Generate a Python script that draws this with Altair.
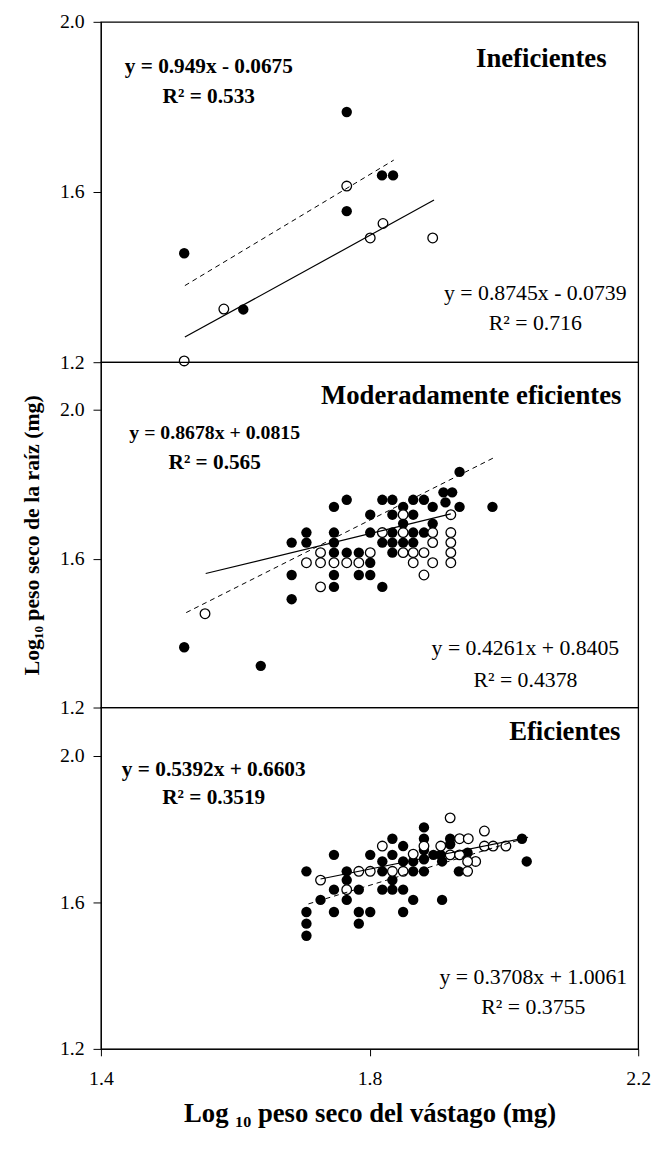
import altair as alt
import pandas as pd

FONT = "Liberation Serif"
X_TICKS = [1.4, 1.8, 2.2]
Y_TICKS = [1.2, 1.6, 2.0]

# ---------------- Panel 1: Ineficientes ----------------
p1_filled_x = [1.766, 1.8185, 1.835, 1.766, 1.524, 1.612]
p1_filled_y = [1.788, 1.639, 1.639, 1.555, 1.456, 1.324]
p1_open_x = [1.766, 1.820, 1.801, 1.894, 1.583, 1.524]
p1_open_y = [1.614, 1.526, 1.492, 1.492, 1.325, 1.203]
p1_dash_x = [1.525, 1.836]
p1_dash_y = [1.380, 1.675]
p1_solid_x = [1.525, 1.896]
p1_solid_y = [1.259, 1.581]

# ---------------- Panel 2: Moderadamente eficientes ----------------
p2_filled_x = [1.934,
               1.910, 1.923,
               1.766, 1.819, 1.834, 1.865, 1.881,
               1.747, 1.850, 1.894, 1.913, 1.934, 1.983,
               1.801, 1.834, 1.865,
               1.850, 1.894,
               1.706, 1.747, 1.801, 1.834, 1.865, 1.881,
               1.684, 1.706, 1.747, 1.819, 1.834, 1.850, 1.865,
               1.747, 1.766, 1.784, 1.834,
               1.801,
               1.684, 1.747, 1.784, 1.801,
               1.747, 1.819,
               1.684,
               1.524,
               1.638]
p2_filled_y = [1.833,
               1.778, 1.778,
               1.758, 1.758, 1.758, 1.758, 1.758,
               1.739, 1.739, 1.739, 1.751, 1.739, 1.739,
               1.718, 1.718, 1.718,
               1.694, 1.694,
               1.670, 1.670, 1.670, 1.670, 1.670, 1.670,
               1.643, 1.643, 1.643, 1.643, 1.643, 1.643, 1.643,
               1.616, 1.616, 1.616, 1.616,
               1.589,
               1.556, 1.556, 1.556, 1.556,
               1.524, 1.524,
               1.491,
               1.362,
               1.312]
p2_open_x = [1.921, 1.850,
             1.819, 1.850, 1.894, 1.921,
             1.894, 1.921,
             1.727, 1.801, 1.850, 1.865, 1.881, 1.921,
             1.706, 1.727, 1.747, 1.766, 1.784, 1.865, 1.894, 1.921,
             1.881,
             1.727,
             1.555]
p2_open_y = [1.718, 1.718,
             1.670, 1.670, 1.670, 1.670,
             1.643, 1.643,
             1.616, 1.616, 1.616, 1.616, 1.616, 1.616,
             1.589, 1.589, 1.589, 1.589, 1.589, 1.589, 1.589, 1.589,
             1.556,
             1.524,
             1.452]
p2_dash_x = [1.527, 1.985]
p2_dash_y = [1.455, 1.871]
p2_solid_x = [1.556, 1.921]
p2_solid_y = [1.560, 1.720]

# ---------------- Panel 3: Eficientes ----------------
p3_filled_x = [1.881,
               1.834, 1.881, 1.920,
               1.850, 1.920,
               1.747, 1.801, 1.834, 1.881, 1.895, 1.906, 1.946,
               1.819, 1.850, 1.865, 1.881, 1.908,
               1.706, 1.766, 1.819, 1.865, 1.881, 1.933,
               1.766, 1.834,
               1.747, 1.784, 1.819, 1.834, 1.850,
               1.727, 1.766, 1.865, 1.908,
               1.706, 1.747, 1.784, 1.801, 1.850,
               1.706, 1.784,
               1.706,
               2.027, 2.034]
p3_filled_y = [1.805,
               1.774, 1.774, 1.774,
               1.754, 1.759,
               1.730, 1.730, 1.730, 1.743, 1.730, 1.730, 1.736,
               1.712, 1.712, 1.712, 1.718, 1.712,
               1.685, 1.685, 1.685, 1.685, 1.685, 1.685,
               1.661, 1.661,
               1.635, 1.635, 1.635, 1.635, 1.635,
               1.607, 1.607, 1.607, 1.607,
               1.574, 1.574, 1.574, 1.574, 1.574,
               1.542, 1.542,
               1.509,
               1.774, 1.712]
p3_open_x = [1.920,
             1.971,
             1.819, 1.906, 1.934, 1.947, 1.971, 1.984, 2.003,
             1.865, 1.881, 1.920, 1.934,
             1.784, 1.801, 1.834, 1.850, 1.946, 1.958, 1.946,
             1.727,
             1.766]
p3_open_y = [1.831,
             1.795,
             1.754, 1.754, 1.774, 1.774, 1.754, 1.754, 1.754,
             1.732, 1.754, 1.730, 1.730,
             1.685, 1.685, 1.685, 1.685, 1.685, 1.712, 1.712,
             1.661,
             1.635]
p3_dash_x = [1.709, 2.036]
p3_dash_y = [1.596, 1.778]
p3_solid_x = [1.727, 2.036]
p3_solid_y = [1.664, 1.778]

# Annotation texts
titles = ["Ineficientes", "Moderadamente eficientes", "Eficientes"]
bold_eqs = ["y = 0.949x - 0.0675", "y = 0.8678x + 0.0815", "y = 0.5392x + 0.6603"]
bold_r2 = ["R² = 0.533", "R² = 0.565", "R² = 0.3519"]
reg_eqs = ["y = 0.8745x - 0.0739", "y = 0.4261x + 0.8405", "y = 0.3708x + 1.0061"]
reg_r2 = ["R² = 0.716", "R² = 0.4378", "R² = 0.3755"]

X_TITLE = "Log ₁₀ peso seco del vástago (mg)"
Y_TITLE = "Log₁₀ peso seco de la raíz (mg)"


def text_layer(label, px, py, size, bold, align="center"):
    return alt.Chart(pd.DataFrame({"t": [label]})).mark_text(
        font=FONT, fontSize=size, fontWeight="bold" if bold else "normal",
        align=align, baseline="middle", color="black"
    ).encode(text="t:N", x=alt.value(px), y=alt.value(py))


def panel(fx, fy, ox, oy, dx, dy, sx, sy, ydom, height, idx, text_pos,
          bold_size, show_x=False, ytitle=None):
    xaxis = None
    if show_x:
        xaxis = alt.Axis(values=X_TICKS, format=".1f", title=X_TITLE,
                         labelFont=FONT, labelFontSize=20, labelColor="black",
                         titleFont=FONT, titleFontSize=27, titleFontWeight="bold",
                         titleColor="black", tickSize=7, tickColor="black",
                         domainColor="black", labelPadding=13, titlePadding=12,
                         grid=False, labelFlush=False)
    yaxis = alt.Axis(values=Y_TICKS, format=".1f",
                     title=ytitle if ytitle else None,
                     labelFont=FONT, labelFontSize=20, labelColor="black",
                     titleFont=FONT, titleFontSize=22, titleFontWeight="bold",
                     titleColor="black", tickSize=8, tickColor="black",
                     domainColor="black", labelPadding=9, titlePadding=16,
                     grid=False, labelFlush=False)
    xs = alt.Scale(domain=[1.4, 2.2], nice=False, zero=False)
    ys = alt.Scale(domain=ydom, nice=False, zero=False)

    def X():
        return alt.X("x:Q", scale=xs, axis=xaxis)

    def Y():
        return alt.Y("y:Q", scale=ys, axis=yaxis)

    filled = alt.Chart(pd.DataFrame({"x": fx, "y": fy})).mark_point(
        shape="circle", filled=True, color="black", size=110, opacity=1
    ).encode(x=X(), y=Y())
    opened = alt.Chart(pd.DataFrame({"x": ox, "y": oy})).mark_point(
        shape="circle", filled=True, fill="white", stroke="black",
        strokeWidth=1.3, size=95, opacity=1
    ).encode(x=X(), y=Y())
    dash = alt.Chart(pd.DataFrame({"x": dx, "y": dy})).mark_line(
        color="black", strokeWidth=1, strokeDash=[5, 4]
    ).encode(x=X(), y=Y())
    solid = alt.Chart(pd.DataFrame({"x": sx, "y": sy})).mark_line(
        color="black", strokeWidth=1.2
    ).encode(x=X(), y=Y())

    tp = text_pos
    texts = [
        text_layer(titles[idx], tp[0][0], tp[0][1], 27, True, align="right"),
        text_layer(bold_eqs[idx], tp[1][0], tp[1][1], bold_size, True),
        text_layer(bold_r2[idx], tp[2][0], tp[2][1], 21.5, True),
        text_layer(reg_eqs[idx], tp[3][0], tp[3][1], 22, False),
        text_layer(reg_r2[idx], tp[4][0], tp[4][1], 22, False),
    ]
    return alt.layer(filled, opened, dash, solid, *texts).properties(
        width=543, height=height)


c1 = panel(p1_filled_x, p1_filled_y, p1_open_x, p1_open_y,
           p1_dash_x, p1_dash_y, p1_solid_x, p1_solid_y,
           [1.2, 2.0], 344, 0,
           [(511, 38), (109, 46), (109, 76), (439, 274), (439, 304)], 21.5)
c2 = panel(p2_filled_x, p2_filled_y, p2_open_x, p2_open_y,
           p2_dash_x, p2_dash_y, p2_solid_x, p2_solid_y,
           [1.2, 2.1276], 349, 1,
           [(526, 34), (115, 72), (115, 102), (429, 289), (429, 321)], 20,
           ytitle=Y_TITLE)
c3 = panel(p3_filled_x, p3_filled_y, p3_open_x, p3_open_y,
           p3_dash_x, p3_dash_y, p3_solid_x, p3_solid_y,
           [1.2, 2.1324], 345, 2,
           [(525, 25), (114, 63), (114, 91), (437, 272), (437, 303)], 21.5,
           show_x=True)

chart = alt.vconcat(c1, c2, c3, spacing=0, bounds="flush").properties(
    padding={"left": 20, "top": 5, "right": 5, "bottom": 5},
    background="white",
).configure_view(stroke="black", strokeWidth=1.3)

chart.save("out.html", embed_options={"renderer": "svg", "actions": False})
